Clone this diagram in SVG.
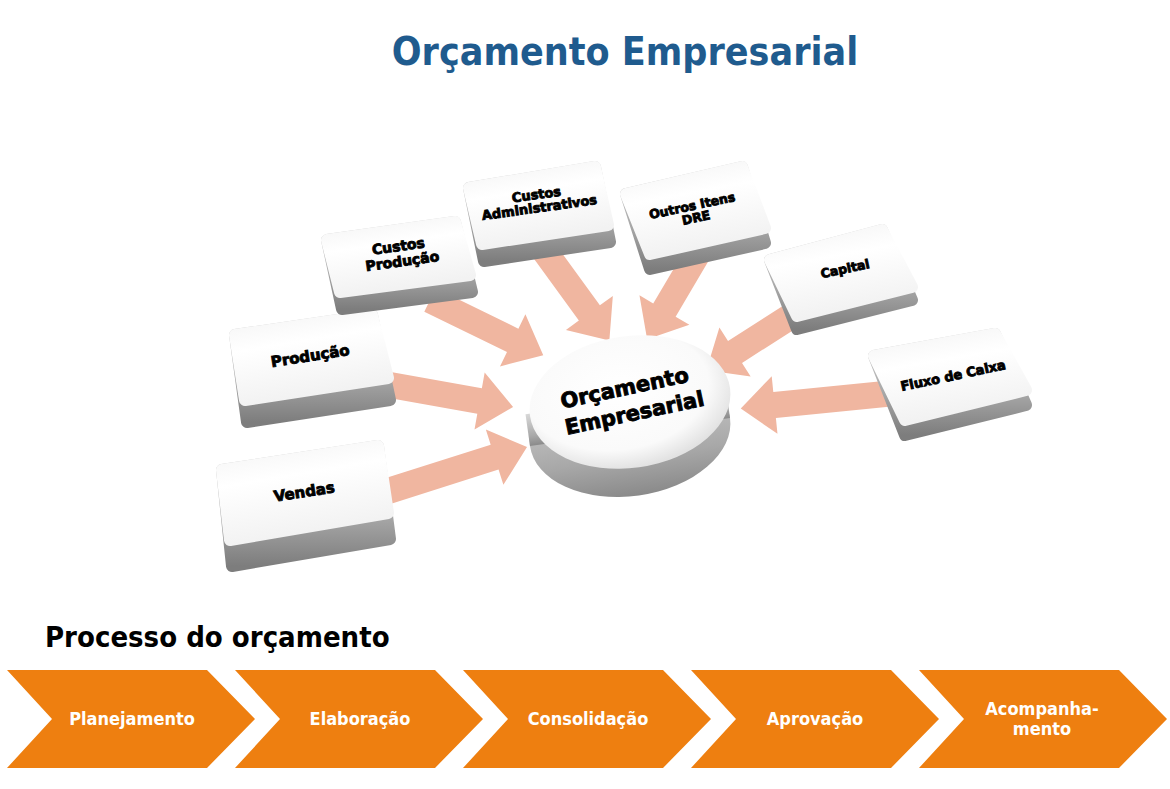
<svg xmlns="http://www.w3.org/2000/svg" width="1170" height="789" viewBox="0 0 1170 789">
<defs>
<linearGradient id="side" x1="0" y1="0" x2="0" y2="1">
<stop offset="0" stop-color="#d4d4d4"/><stop offset="0.6" stop-color="#a6a6a6"/><stop offset="1" stop-color="#7d7d7d"/>
</linearGradient>
<linearGradient id="top" x1="0" y1="0" x2="0.3" y2="1">
<stop offset="0" stop-color="#f4f4f4"/><stop offset="0.4" stop-color="#ffffff"/><stop offset="1" stop-color="#f2f2f2"/>
</linearGradient>
<radialGradient id="disc" cx="0.45" cy="0.4" r="0.6">
<stop offset="0" stop-color="#ffffff"/><stop offset="0.75" stop-color="#fafafa"/><stop offset="1" stop-color="#e2e2e2"/>
</radialGradient>
<linearGradient id="discside" x1="0" y1="0" x2="0" y2="1">
<stop offset="0" stop-color="#d8d8d8"/><stop offset="0.7" stop-color="#a8a8a8"/><stop offset="1" stop-color="#8a8a8a"/>
</linearGradient>
<style>
.side{fill:url(#side);stroke:url(#side);stroke-width:12;stroke-linejoin:round}
.face{fill:url(#top);stroke:url(#top);stroke-width:12;stroke-linejoin:round}
.lbl{font-family:"DejaVu Sans",sans-serif;font-weight:bold;fill:#000;stroke:#000;stroke-width:0.9;text-anchor:middle}
.arr{fill:#f0b6a0}
.chev{fill:#ee7f10}
.ct{font-family:"DejaVu Sans Condensed","DejaVu Sans",sans-serif;font-weight:bold;font-size:18px;fill:#fff;text-anchor:middle}
</style>
</defs>
<rect width="1170" height="789" fill="#fff"/>
<text x="625" y="65" font-family="DejaVu Sans Condensed, DejaVu Sans, sans-serif" font-weight="bold" font-size="39" fill="#1f5b8e" text-anchor="middle">Orçamento Empresarial</text>

<g id="connectors">
<path class="arr" transform="translate(385,492) rotate(-17.6)" d="M0,-13 L115,-13 L115,-29 L149,0 L115,29 L115,13 L0,13 Z"/>
<path class="arr" transform="translate(390,385) rotate(10.1)" d="M0,-13 L91,-13 L91,-29 L125,0 L91,29 L91,13 L0,13 Z"/>
<path class="arr" transform="translate(430,300) rotate(26)" d="M0,-13 L92,-13 L92,-29 L126,0 L92,29 L92,13 L0,13 Z"/>
<path class="arr" transform="translate(540,245) rotate(54)" d="M0,-13 L84,-13 L84,-29 L118,0 L84,29 L84,13 L0,13 Z"/>
<path class="arr" transform="translate(697,255) rotate(120.6)" d="M0,-13 L64,-13 L64,-29 L98,0 L64,29 L64,13 L0,13 Z"/>
<path class="arr" transform="translate(810,304) rotate(147.4)" d="M0,-13 L89,-13 L89,-29 L123,0 L89,29 L89,13 L0,13 Z"/>
<path class="arr" transform="translate(895,393) rotate(174.3)" d="M0,-13 L121,-13 L121,-29 L155,0 L121,29 L121,13 L0,13 Z"/>
</g>

<g id="vendas">
<polygon class="side" points="222,470 378,446 390,539 232,566"/>
<polygon class="face" points="222,470 378,446 388,513 230,540"/>
<text class="lbl" font-size="15" transform="translate(305,497) rotate(-9)">Vendas</text>
</g>
<g id="producao">
<polygon class="side" points="235,335 372,315 390,400 247,422"/>
<polygon class="face" points="235,335 372,315 388,378 245,400"/>
<text class="lbl" font-size="15" transform="translate(311,361) rotate(-9)">Produção</text>
</g>
<g id="custos-producao">
<polygon class="side" points="327,240 455,222 472,292 342,309"/>
<polygon class="face" points="327,240 455,222 470,275 340,292"/>
<text class="lbl" font-size="14" transform="translate(399,251) rotate(-8)">Custos</text>
<text class="lbl" font-size="14" transform="translate(403,266) rotate(-8)">Produção</text>
</g>
<g id="custos-adm">
<polygon class="side" points="469,188 595,167 610,242 484,261"/>
<polygon class="face" points="469,188 595,167 608,225 482,244"/>
<text class="lbl" font-size="13" transform="translate(537,199) rotate(-8)">Custos</text>
<text class="lbl" font-size="13" transform="translate(540,212) rotate(-8)">Administrativos</text>
</g>
<g id="outros">
<polygon class="side" points="626,194 742,167 765,243 650,269"/>
<polygon class="face" points="626,194 742,167 765,228 650,254"/>
<text class="lbl" font-size="12.5" transform="translate(693,210) rotate(-12)">Outros Itens</text>
<text class="lbl" font-size="12.5" transform="translate(697,222) rotate(-12)">DRE</text>
</g>
<g id="capital">
<polygon class="side" points="770,260 882,230 912,300 797,329"/>
<polygon class="face" points="770,260 882,230 912,287 797,316"/>
<text class="lbl" font-size="12.5" transform="translate(846,273) rotate(-12)">Capital</text>
</g>
<g id="fluxo">
<polygon class="side" points="874,356 995,334 1026,405 905,435"/>
<polygon class="face" points="874,356 995,334 1026,390 905,420"/>
<text class="lbl" font-size="13" transform="translate(954,380) rotate(-12)">Fluxo de Caixa</text>
</g>

<g id="orcamento">
<ellipse cx="630" cy="432" rx="101" ry="64" fill="url(#discside)" transform="rotate(-8 630 432)"/>
<rect x="529" y="400" width="202" height="32" fill="url(#discside)" transform="rotate(-8 630 432)"/>
<ellipse cx="630" cy="402" rx="101" ry="66" fill="url(#disc)" transform="rotate(-8 630 402)"/>
<text class="lbl" font-size="21" transform="translate(626,395) rotate(-12)">Orçamento</text>
<text class="lbl" font-size="21" transform="translate(636,420) rotate(-12)">Empresarial</text>
</g>

<text x="45" y="647" font-family="DejaVu Sans Condensed, DejaVu Sans, sans-serif" font-weight="bold" font-size="29" fill="#000">Processo do orçamento</text>

<g id="planejamento">
<polygon class="chev" points="7,670 207,670 255,719 207,768 7,768 52,719"/>
<text class="ct" x="132" y="725">Planejamento</text>
</g>
<g id="elaboracao">
<polygon class="chev" points="235,670 435,670 483,719 435,768 235,768 280,719"/>
<text class="ct" x="360" y="725">Elaboração</text>
</g>
<g id="consolidacao">
<polygon class="chev" points="463,670 663,670 711,719 663,768 463,768 508,719"/>
<text class="ct" x="588" y="725">Consolidação</text>
</g>
<g id="aprovacao">
<polygon class="chev" points="691,670 891,670 939,719 891,768 691,768 736,719"/>
<text class="ct" x="815" y="725">Aprovação</text>
</g>
<g id="acompanhamento">
<polygon class="chev" points="919,670 1119,670 1167,719 1119,768 919,768 964,719"/>
<text class="ct" x="1042" y="715">Acompanha-</text>
<text class="ct" x="1042" y="735">mento</text>
</g>
</svg>
